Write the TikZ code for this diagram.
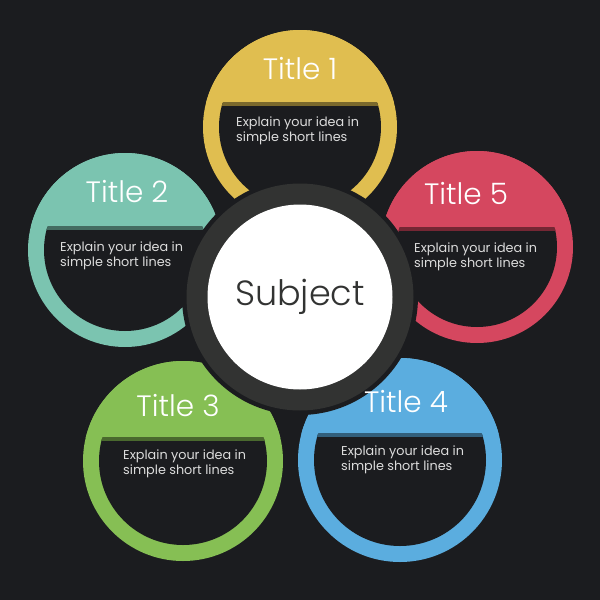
\documentclass[tikz,border=0pt]{standalone}
\usepackage{fontspec}
\setmainfont{Poppins}
\newfontfamily\titlefont{Poppins Light}
\definecolor{bgc}{HTML}{1B1C1F}
\definecolor{ringc}{HTML}{323332}
\definecolor{cyel}{HTML}{E0BE50}
\definecolor{cteal}{HTML}{7BC4B0}
\definecolor{cred}{HTML}{D5475F}
\definecolor{cgreen}{HTML}{86BF54}
\definecolor{cblue}{HTML}{5BADDF}
\definecolor{desctext}{HTML}{DCDCDC}
\newcommand\mypetal[5]{% #1 cx, #2 cy, #3 R, #4 chord y, #5 colour
  \fill[#5] (#1,#2) circle[radius=#3];
  \fill[bgc] (#1,#2) circle[radius=#3-16];
  \begin{scope}
    \clip (#1-#3-2,#2-#3-2) rectangle (#1+#3+2,#4);
    \fill[#5] (#1,#2) circle[radius=#3];
  \end{scope}
  \begin{scope}
    \clip (#1,#2) circle[radius=#3-16];
    \fill[#5!55!black] (#1-#3,#4) rectangle (#1+#3,#4+3.5);
  \end{scope}
}
\tikzset{
  titletext/.style={text=white, inner sep=0pt, font=\titlefont\fontsize{29.5}{32}\selectfont},
  desctext/.style={text=desctext, inner sep=0pt, align=left, font=\fontsize{12.8}{15.5}\selectfont},
  subjtext/.style={text=ringc, inner sep=0pt, font=\titlefont\fontsize{35}{38}\selectfont}
}
\begin{document}
\begin{tikzpicture}[x=1pt,y=-1pt]
\fill[bgc] (0,0) rectangle (600,600);
\useasboundingbox (0,0) rectangle (600,600);
% petals
\mypetal{300}{127}{97}{102}{cyel}
\mypetal{125}{250}{97}{226}{cteal}
\mypetal{477}{247}{96}{227}{cred}
\mypetal{183}{461}{100}{437}{cgreen}
\mypetal{400}{460}{102}{433}{cblue}
% centre
\fill[bgc] (300,297) circle[radius=118];
\fill[ringc] (300,297) circle[radius=113.5];
\node[circle, fill=white, minimum size=185pt, inner sep=0pt] (centre) at (300,297) {};
\node[subjtext] (subject) at (300,297) {Subject};
% titles
\node[titletext, anchor=base] (t1) at (300,79) {Title 1};
\node[titletext, anchor=base] (t2) at (127,202) {Title 2};
\node[titletext, anchor=base] (t5) at (466,204) {Title 5};
\node[titletext, anchor=base] (t3) at (178,416) {Title 3};
\node[titletext, anchor=base] (t4) at (406,412) {Title 4};
% descriptions (base = baseline of the last line)
\node[desctext, anchor=base west] (d1) at (236,141.5) {Explain your idea in\\simple short lines};
\node[desctext, anchor=base west] (d2) at (60,266.5) {Explain your idea in\\simple short lines};
\node[desctext, anchor=base west] (d5) at (414,267.5) {Explain your idea in\\simple short lines};
\node[desctext, anchor=base west] (d3) at (123,474.5) {Explain your idea in\\simple short lines};
\node[desctext, anchor=base west] (d4) at (341,470.5) {Explain your idea in\\simple short lines};
\end{tikzpicture}
\end{document}
